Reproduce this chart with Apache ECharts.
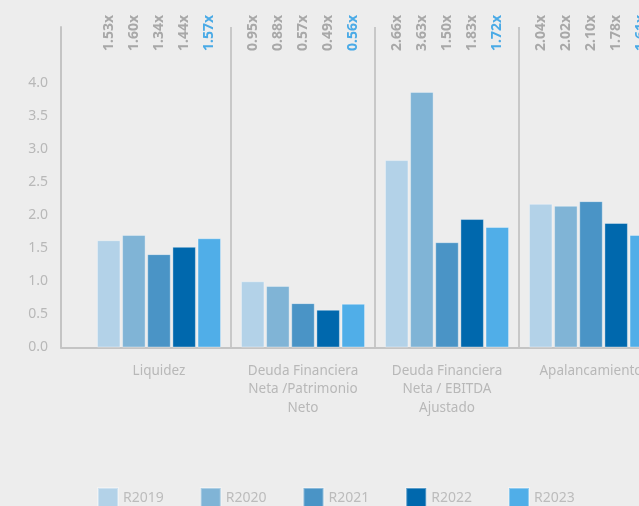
<!DOCTYPE html>
<html>
<head>
<meta charset="utf-8">
<script src="https://cdn.jsdelivr.net/npm/echarts@6/dist/echarts.min.js"></script>
<style>
html, body { margin: 0; padding: 0; background: #ededed; }
#chart { width: 639px; height: 506px; }
</style>
</head>
<body>
<div id="chart"></div>
<script>
// categorias y series
var categories = ['Liquidez', 'Deuda Financiera\nNeta /Patrimonio\nNeto', 'Deuda Financiera\nNeta / EBITDA\nAjustado', 'Apalancamiento'];
var years = ['R2019', 'R2020', 'R2021', 'R2022', 'R2023'];
var colors = ['#b3d2e8', '#80b4d6', '#4a94c6', '#0068ad', '#50aee8'];

var r2019 = [1.62, 1.00, 2.83, 2.17];
var r2020 = [1.70, 0.93, 3.86, 2.14];
var r2021 = [1.41, 0.67, 1.59, 2.21];
var r2022 = [1.52, 0.57, 1.94, 1.88];
var r2023 = [1.65, 0.66, 1.82, 1.70];

// etiquetas de arriba
var lab2019 = ['1.53x', '0.95x', '2.66x', '2.04x'];
var lab2020 = ['1.60x', '0.88x', '3.63x', '2.02x'];
var lab2021 = ['1.34x', '0.57x', '1.50x', '2.10x'];
var lab2022 = ['1.44x', '0.49x', '1.83x', '1.78x'];
var lab2023 = ['1.57x', '0.56x', '1.72x', '1.61x'];

var yTicks = [0, 0.5, 1, 1.5, 2, 2.5, 3, 3.5, 4];

var values = [r2019, r2020, r2021, r2022, r2023];
var labels = [lab2019, lab2020, lab2021, lab2022, lab2023];

var FONT = 'Noto Sans';
var YMAX = 4.84;

var chart = echarts.init(document.getElementById('chart'));

var series = [];
for (var i = 0; i < years.length; i++) {
	series.push({
		name: years[i],
		type: 'bar',
		xAxisIndex: 0,
		yAxisIndex: 0,
		data: values[i],
		barWidth: 23.5,
		barGap: '7%',
		silent: true,
		itemStyle: {
			color: colors[i],
			borderColor: 'rgba(255,255,255,0.35)',
			borderWidth: 1
		}
	});
}
// barras invisibles solo para las etiquetas verticales
for (var j = 0; j < years.length; j++) {
	(function(k) {
		series.push({
			name: 'lab' + years[k],
			type: 'bar',
			xAxisIndex: 1,
			yAxisIndex: 1,
			data: categories.map(function() { return 1; }),
			barWidth: 23.5,
			barGap: '7%',
			silent: true,
			itemStyle: { color: 'rgba(0,0,0,0)' },
			label: {
				show: true,
				position: ['50%', 0],
				rotate: 90,
				align: 'right',
				verticalAlign: 'middle',
				fontFamily: FONT,
				fontSize: 14,
				fontWeight: 'bold',
				color: k == 4 ? '#4aaae6' : '#a8a8a8',
				formatter: function(p) { return labels[k][p.dataIndex]; }
			}
		});
	})(j);
}

var option = {
	backgroundColor: '#ededed',
	animation: false,
	color: colors,
	legend: {
		data: years,
		left: 97,
		top: 487,
		padding: 0,
		itemWidth: 20,
		itemHeight: 20,
		itemGap: 36,
		icon: 'rect',
		selectedMode: false,
		textStyle: { fontFamily: FONT, fontSize: 14, color: '#bcbcbc' }
	},
	grid: [
		{ left: 87, right: -24, top: 27, bottom: 158.5, outerBoundsMode: 'none' },
		{ left: 87, right: -24, top: 15, bottom: 158.5, outerBoundsMode: 'none' },
		{ left: 61, right: -24, top: 27, bottom: 158.5, outerBoundsMode: 'none' }
	],
	xAxis: [
		{
			type: 'category',
			gridIndex: 0,
			data: categories,
			axisLine: { show: false },
			axisTick: { show: false },
			splitLine: {
				show: true,
				interval: function(idx) { return idx > 0; },
				lineStyle: { color: '#c8c8c8', width: 2 }
			},
			axisLabel: {
				fontFamily: FONT,
				fontSize: 13.5,
				lineHeight: 18.5,
				color: '#b8b8b8',
				margin: 14,
				interval: 0
			}
		},
		{
			type: 'category',
			gridIndex: 1,
			data: categories,
			show: false
		},
		{
			type: 'value',
			gridIndex: 2,
			min: 0,
			max: 1,
			axisLine: { show: true, lineStyle: { color: '#c4c4c4', width: 2 } },
			axisTick: { show: false },
			axisLabel: { show: false },
			splitLine: { show: false }
		}
	],
	yAxis: [
		{ type: 'value', gridIndex: 0, min: 0, max: YMAX, show: false },
		{ type: 'value', gridIndex: 1, min: 0, max: 1, show: false },
		{
			type: 'value',
			gridIndex: 2,
			min: 0,
			max: YMAX,
			interval: 0.5,
			axisLine: { show: true, lineStyle: { color: '#c4c4c4', width: 2 } },
			axisTick: { show: false },
			splitLine: { show: false },
			axisLabel: {
				fontFamily: FONT,
				fontSize: 14,
				color: '#b8b8b8',
				margin: 13,
				padding: [0, 0, 8, 0],
				formatter: function(v) {
					return yTicks.indexOf(v) >= 0 ? v.toFixed(1) : '';
				}
			}
		}
	],
	series: series
};

chart.setOption(option);
</script>
</body>
</html>
